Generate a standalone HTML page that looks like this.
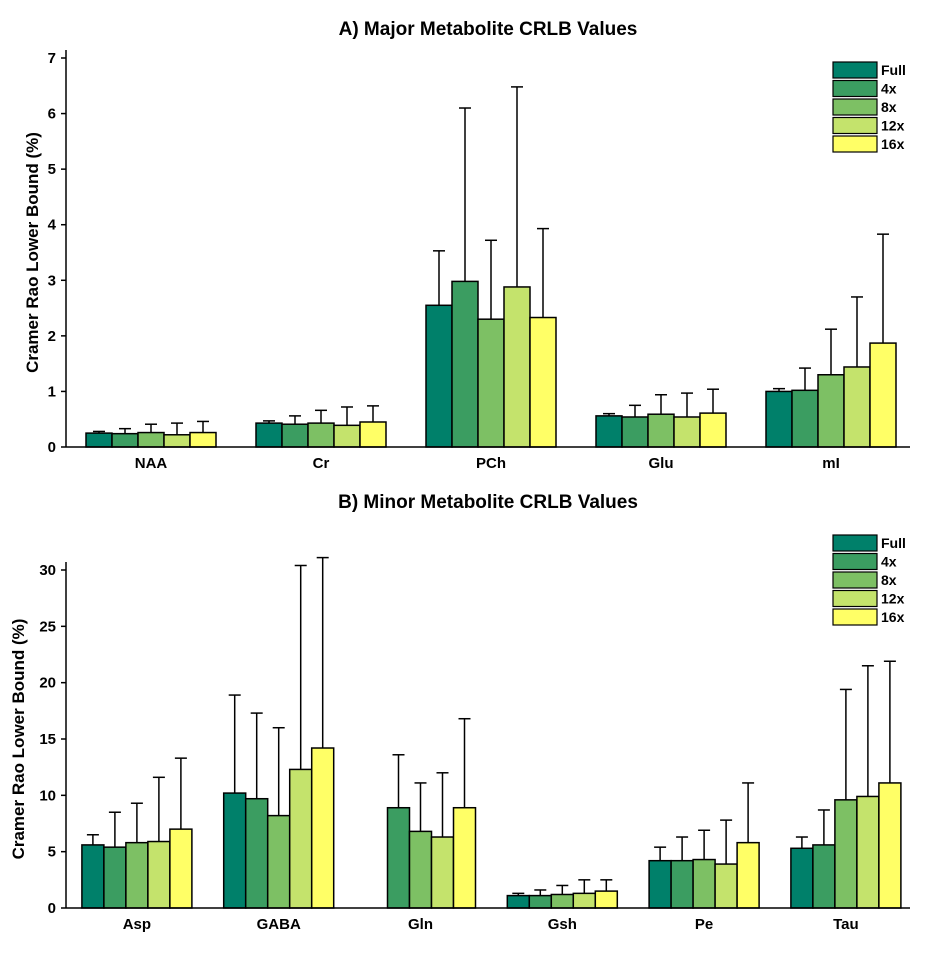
<!DOCTYPE html>
<html><head><meta charset="utf-8"><style>
body{margin:0;background:#fff;}
svg text{font-family:"Liberation Sans",Arial,sans-serif;font-weight:bold;fill:#000;}
</style></head><body>
<svg id="chart" width="938" height="955"></svg>
<script>
const seriesNames=["Full","4x","8x","12x","16x"];
const colors=["#00806a","#3b9d61","#7dc064","#c4e36c","#ffff66"];
const catsA=["NAA","Cr","PCh","Glu","mI"];
const valsA=[[0.25,0.24,0.26,0.22,0.26],[0.43,0.41,0.43,0.39,0.45],[2.55,2.98,2.3,2.88,2.33],[0.56,0.54,0.59,0.54,0.61],[1.0,1.02,1.3,1.44,1.87]];
const errA=[[0.28,0.33,0.41,0.43,0.46],[0.47,0.56,0.66,0.72,0.74],[3.53,6.1,3.72,6.48,3.93],[0.6,0.75,0.94,0.97,1.04],[1.05,1.42,2.12,2.7,3.83]];
const ticksA=[0,1,2,3,4,5,6,7];
const catsB=["Asp","GABA","Gln","Gsh","Pe","Tau"];
const valsB=[[5.6,5.4,5.8,5.9,7.0],[10.2,9.7,8.2,12.3,14.2],[0,8.9,6.8,6.3,8.9],[1.1,1.1,1.2,1.3,1.5],[4.2,4.2,4.3,3.9,5.8],[5.3,5.6,9.6,9.9,11.1]];
const errB=[[6.5,8.5,9.3,11.6,13.3],[18.9,17.3,16.0,30.4,31.1],[0,13.6,11.1,12.0,16.8],[1.3,1.6,2.0,2.5,2.5],[5.4,6.3,6.9,7.8,11.1],[6.3,8.7,19.4,21.5,21.9]];
const ticksB=[0,5,10,15,20,25,30];

const svg=document.getElementById('chart');
const NS="http://www.w3.org/2000/svg";
function mk(tag,attrs,parent,text){const e=document.createElementNS(NS,tag);for(const k in attrs)e.setAttribute(k,attrs[k]);if(text!==undefined)e.textContent=text;(parent||svg).appendChild(e);return e;}

function panel(id,title,cats,vals,errs,ticks,y0,y1,vmax,titleY,legendY,ylabelX,band,bw){
  const g=mk('g',{});
  
  
  const x0=66,x1=910;
  const ys=v=>y0-(v/vmax)*(y0-y1);
  const t=mk('text',{x:488,y:titleY,'text-anchor':'middle','font-size':19},g,title);
  
  
  const yl=mk('text',{x:ylabelX,y:(y0+y1)/2,'text-anchor':'middle','font-size':17,transform:`rotate(-90 ${ylabelX} ${(y0+y1)/2})`},g,"Cramer Rao Lower Bound (%)");
  
  
  cats.forEach((c,i)=>{
    const cx=x0+band*(i+0.5);
    vals[i].forEach((v,j)=>{
      if(v<=0)return;
      const bx=cx+(j-2.5)*bw;
      const e=errs[i][j];
      const ex=bx+bw/2;
      const l=mk('line',{x1:ex,x2:ex,y1:ys(v),y2:ys(e),stroke:'#000','stroke-width':1.5},g);
      
      
      mk('line',{x1:ex-6,x2:ex+6,y1:ys(e),y2:ys(e),stroke:'#000','stroke-width':1.5},g);
      const r=mk('rect',{x:bx,y:ys(v),width:bw,height:y0-ys(v),fill:colors[j],stroke:'#000','stroke-width':1.5},g);
      
      
    });
    const lb=mk('text',{x:cx,y:y0+21,'text-anchor':'middle','font-size':15},g,c);
    
    
  });
  ticks.forEach(tv=>{
    mk('line',{x1:x0-5,x2:x0,y1:ys(tv),y2:ys(tv),stroke:'#000','stroke-width':1.5},g);
    const tl=mk('text',{x:x0-10,y:ys(tv)+5,'text-anchor':'end','font-size':15},g,tv);
    
    
  });
  const ya=mk('line',{x1:x0,x2:x0,y1:y0,y2:y1-8,stroke:'#000','stroke-width':1.5},g);
  
  
  const xa=mk('line',{x1:x0,x2:x1,y1:y0,y2:y0,stroke:'#000','stroke-width':1.5},g);
  
  
  const lg=mk('g',{},g);
  
  
  seriesNames.forEach((s,j)=>{
    const ly=legendY+j*18.5;
    const le=mk('g',{},lg);
    
    
    mk('rect',{x:833,y:ly,width:44,height:16,fill:colors[j],stroke:'#000','stroke-width':1.2},le);
    mk('text',{x:881,y:ly+13,'font-size':14},le,s);
  });
}
panel('major',"A) Major Metabolite CRLB Values",catsA,valsA,errA,ticksA,447,58,7,35,62,38,170,26);
panel('minor',"B) Minor Metabolite CRLB Values",catsB,valsB,errB,ticksB,908,570,30,508,535,24,141.8,22);
</script>
</body></html>
